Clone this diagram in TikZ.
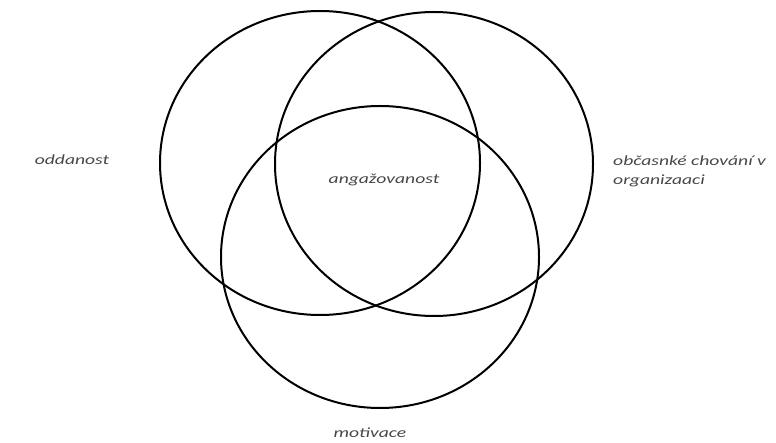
\documentclass[tikz,border=0pt]{standalone}
\usepackage{fontspec}
\newfontfamily\lblfont[FakeStretch=1.4]{Carlito}
\tikzset{
  ring/.style={line width=2pt, black},
  lbl/.style={font=\lblfont\itshape\fontsize{14}{19}\selectfont, text=black!72, inner sep=0pt}
}
\begin{document}
\begin{tikzpicture}[x=1pt, y=-1pt]
        \useasboundingbox (0,0) rectangle (776,443);

        \coordinate (L) at (320, 163); % left circle
        \coordinate (R) at (434, 164); % right circle
        \coordinate (B) at (380, 257); % bottom circle

        \draw[ring] (L) ellipse [x radius=160pt, y radius=152pt];
        \draw[ring] (R) ellipse [x radius=159pt, y radius=152pt];
        \draw[ring] (B) ellipse [x radius=159pt, y radius=151pt];

        \node[lbl] (oddanost) at (72, 160) {oddanost};
        \node[lbl] (angazovanost) at (384, 180) {angažovanost};
        \node[lbl, anchor=west, align=left] (chovani) at (613, 171) {občasnké chování v\\organizaaci};
        \node[lbl] (motivace) at (370, 433) {motivace};

    \end{tikzpicture}
\end{document}
